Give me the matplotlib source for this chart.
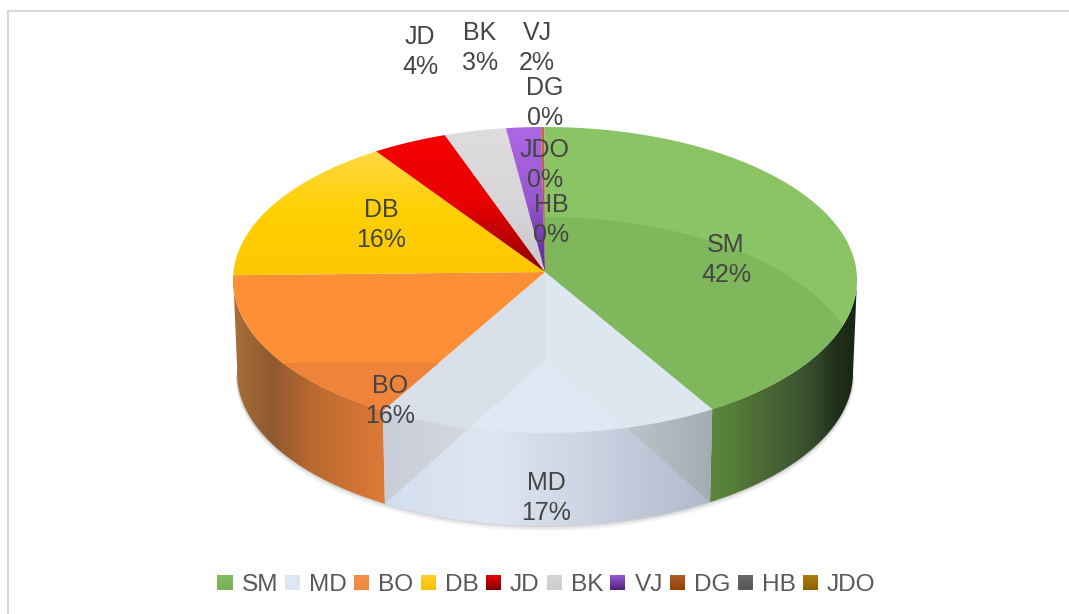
import numpy as np
import matplotlib.pyplot as plt

from matplotlib.colors import LinearSegmentedColormap
from matplotlib.patches import Polygon, Rectangle

# slices, clockwise from 12 o'clock
names = ["SM", "MD", "BO", "DB", "JD", "BK", "VJ", "DG", "HB", "JDO"]
shares = [41.0, 17.7, 16.8, 15.4, 3.9, 3.2, 1.8, 0.16, 0.02, 0.02]
percent_labels = [42, 17, 16, 16, 4, 3, 2, 0, 0, 0]

# top colours of each slice, first -> last going down
top_colors = {
    "SM": ["#8ac465", "#8ac465"],
    "MD": ["#d9e0ea", "#d9e0ea"],
    "BO": ["#fd8f35", "#fd8f35"],
    "DB": ["#ffd844", "#ffd000", "#fcc705"],
    "JD": ["#f50000", "#e80000", "#8e0000"],
    "BK": ["#dedcde", "#d8d6d9", "#c9c7cc"],
    "VJ": ["#ac68e4", "#9a58d0", "#55268a"],
    "DG": ["#c0703a", "#a04a10"],
    "HB": ["#707070", "#505050"],
    "JDO": ["#b08418", "#8a6400"],
}
legend_colors = {
    "SM": ["#84bc60", "#78b256"],
    "MD": ["#dfe8f4", "#dce6f2"],
    "BO": ["#f59048", "#ee8840"],
    "DB": ["#ffd030", "#f8c000"],
    "JD": ["#ee0000", "#800000"],
    "BK": ["#d6d6d6", "#cecece"],
    "VJ": ["#a05cdc", "#4a2378"],
    "DG": ["#b0602c", "#963f00"],
    "HB": ["#6c6c6c", "#565656"],
    "JDO": ["#b08010", "#8c6200"],
}
# side colours, left -> right
side_colors = {
    "SM": ["#5c873b", "#56803a", "#4f7035", "#476534", "#3e5a31", "#34492a",
           "#20301a", "#1a2415"],
    "MD": ["#d3dff0", "#dfe6f1", "#c9d0e0", "#b0b8ca"],
    "BO": ["#a86f3b", "#8f5a30", "#b5682f", "#cc7233", "#dc7a38"],
}

label_xy = [(726, 260), (546, 498), (390, 401), (381, 225), (420, 52),
            (480, 48), (537, 48), (545, 103), (551, 220), (545, 165)]

# pie geometry in pixels
APEX = (545, 272)
TOP = (545, 280, 312, 153)
BOTTOM = (545, 373, 308, 153)
W, H = 1069, 614


def rim(angles, ell):
    cx, cy, rx, ry = ell
    t = np.radians(angles)
    return np.column_stack([cx + rx * np.sin(t), cy - ry * np.cos(t)])


def arc(a, b, ell=TOP):
    return rim(np.linspace(a, b, max(int(abs(b - a) * 2), 2) + 1), ell)


def gradient_fill(ax, pts, colors, horizontal=False, zorder=2):
    pts = np.asarray(pts)
    x0, y0 = pts.min(axis=0)
    x1, y1 = pts.max(axis=0)
    cmap = LinearSegmentedColormap.from_list("g", colors)
    ramp = np.linspace(0, 1, 256)
    ramp = ramp.reshape(1, -1) if horizontal else ramp.reshape(-1, 1)
    im = ax.imshow(ramp, cmap=cmap, extent=(x0, x1, y1, y0), origin="upper",
                   aspect="auto", zorder=zorder, interpolation="bilinear")
    patch = Polygon(pts, closed=True, transform=ax.transData,
                    fc="none", ec="none")
    ax.add_patch(patch)
    im.set_clip_path(patch)
    return im


plt.rcParams["font.family"] = ["Liberation Sans", "DejaVu Sans"]

fig = plt.figure(figsize=(W / 100, H / 100), dpi=100)
ax = fig.add_axes([0, 0, 1, 1])
ax.set_xlim(0, W)
ax.set_ylim(H, 0)
ax.axis("off")
ax.set_autoscale_on(False)

# chart frame, only top and left edges fall inside the image
ax.add_patch(Rectangle((8, 11), 1200, 700, fc="white", ec="#d9d9d9", lw=1.5,
                       zorder=0))

ends = np.cumsum(shares) / sum(shares) * 360
starts = np.concatenate([[0], ends[:-1]])
span = dict(zip(names, zip(starts, ends)))

# soft shadow under the pie
for grow, alpha in [(5, 0.05), (3, 0.08), (1, 0.12)]:
    cx, cy, rx, ry = BOTTOM
    ax.add_patch(Polygon(arc(90, 270, (cx, cy + grow, rx + 1, ry)), fc="#404040",
                         ec="none", alpha=alpha, zorder=1))

# front sides
bo_hi = span["BO"][1]
for name, lo, hi in [("SM", 90, span["SM"][1]),
                     ("MD", *span["MD"]),
                     ("BO", span["BO"][0], bo_hi)]:
    outline = np.vstack([arc(lo, hi), arc(hi, lo, BOTTOM)])
    gradient_fill(ax, outline, side_colors[name], horizontal=True, zorder=2)

# lighter band on the upper left of the BO side
cut = np.vstack([arc(240, bo_hi), arc(bo_hi, 240, BOTTOM)])
cut = cut[cut[:, 1] < 364]
ax.add_patch(Polygon(cut, fc="#d8b070", ec="none", alpha=0.25, zorder=2.1))

# grey folds at both ends of the MD side
md_lo, md_hi = span["MD"]
fold = 0.27 * (md_hi - md_lo)
left_fold = np.vstack([arc(md_hi, md_hi - fold), rim([md_hi], BOTTOM)])
right_fold = np.vstack([arc(md_lo, md_lo + fold), rim([md_lo], BOTTOM)])
gradient_fill(ax, left_fold, ["#c9cdd8", "#d5d8e0"], horizontal=True, zorder=2.2)
gradient_fill(ax, right_fold, ["#bac4c9", "#a2acb2"], horizontal=True, zorder=2.2)

# top faces
for name, (lo, hi) in span.items():
    pts = np.vstack([[APEX], arc(lo, hi)])
    gradient_fill(ax, pts, top_colors[name], zorder=3)

# darker inner part of the SM top
lo, hi = span["SM"]
sm_top = Polygon(np.vstack([[APEX], arc(lo, hi)]), fc="none", ec="none")
ax.add_patch(sm_top)
inner = arc(0, 360, (545, 380, 316, 163))
shade = Polygon(inner, fc="#7eb75c", ec="none", zorder=3.1)
ax.add_patch(shade)
shade.set_clip_path(sm_top)

# darker lower part of the BO top
lo, hi = span["BO"]
bo_top = Polygon(np.vstack([[APEX], arc(lo, hi)]), fc="none", ec="none")
ax.add_patch(bo_top)
band = Rectangle((200, 363), 300, 100, fc="#ee8339", ec="none", zorder=3.1)
ax.add_patch(band)
band.set_clip_path(bo_top)

# MD top is split into three tones
mid = (APEX[0], APEX[1] + 88)
ax.add_patch(Polygon(np.vstack([[APEX], [mid], arc(md_lo + fold, md_lo)]),
                     fc="#dde7f0", ec="none", zorder=3.1))
ax.add_patch(Polygon(np.vstack([[mid], arc(md_lo + fold, md_hi - fold)]),
                     fc="#e1e7f2", ec="none", zorder=3.1))

# data labels
for name, pct, (x, y) in zip(names, percent_labels, label_xy):
    ax.text(x, y, f"{name}\n{pct}%", ha="center", va="center", fontsize=18,
            color="#454545", linespacing=1.27, zorder=6)

# legend
handles = [Rectangle((0, 0), 1, 1, fc=legend_colors[n][0], ec="none") for n in names]
leg = ax.legend(handles, names, loc="center", bbox_to_anchor=(546.5 / W, 1 - 585 / H),
                ncol=len(names), frameon=False, fontsize=17.6, labelcolor="#595959",
                handlelength=0.615, handleheight=0.615, handletextpad=0.365,
                columnspacing=0.30, borderpad=0, borderaxespad=0)

fig.canvas.draw()
renderer = fig.canvas.get_renderer()
for name, h in zip(names, leg.legend_handles):
    box = h.get_window_extent(renderer).transformed(ax.transData.inverted())
    corners = [(box.x0, box.y0), (box.x1, box.y0), (box.x1, box.y1), (box.x0, box.y1)]
    gradient_fill(ax, corners, legend_colors[name], zorder=7)

fig.savefig("out.png", dpi=100)
